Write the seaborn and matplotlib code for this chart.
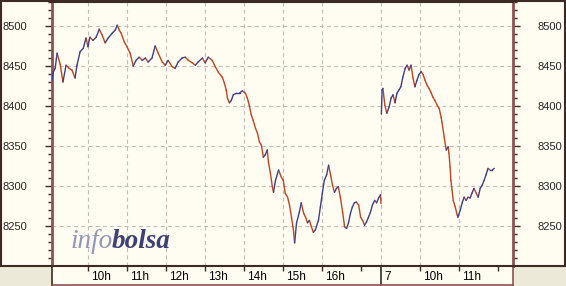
import numpy as np
import pandas as pd
import matplotlib
matplotlib.use("Agg")
import matplotlib.pyplot as plt
import matplotlib.transforms as mtransforms
from matplotlib.patches import Rectangle
import seaborn as sns

# ---------------- data ----------------
day1_hours = [9.08, 9.11, 9.16, 9.21, 9.29, 9.36, 9.44, 9.52, 9.59, 9.67,
              9.72, 9.80, 9.88, 9.95, 10.00, 10.05, 10.13, 10.21, 10.29, 10.36,
              10.44, 10.52, 10.62, 10.70, 10.75, 10.80, 10.85, 10.93, 11.00, 11.08,
              11.16, 11.23, 11.31, 11.39, 11.47, 11.54, 11.64, 11.72, 11.80, 11.90,
              11.98, 12.05, 12.16, 12.23, 12.31, 12.41, 12.49, 12.57, 12.67, 12.75,
              12.82, 12.93, 13.00, 13.08, 13.18, 13.26, 13.34, 13.44, 13.49, 13.54,
              13.57, 13.62, 13.67, 13.72, 13.80, 13.88, 13.95, 14.03, 14.08, 14.13,
              14.18, 14.23, 14.29, 14.34, 14.39, 14.44, 14.49, 14.54, 14.59, 14.62,
              14.67, 14.72, 14.75, 14.80, 14.88, 14.95, 15.00, 15.05, 15.11, 15.16,
              15.21, 15.26, 15.29, 15.34, 15.41, 15.46, 15.52, 15.57, 15.62, 15.67,
              15.72, 15.77, 15.82, 15.90, 15.95, 16.00, 16.05, 16.11, 16.16, 16.21,
              16.26, 16.31, 16.36, 16.41, 16.46, 16.52, 16.57, 16.62, 16.67, 16.72,
              16.77, 16.82, 16.87, 16.93, 16.98, 17.03, 17.08, 17.13, 17.18, 17.23,
              17.28, 17.34, 17.39, 17.44, 17.49, 17.50]
day1_values = [8432, 8442, 8447, 8466, 8452, 8430, 8451, 8447, 8445, 8435,
               8451, 8468, 8472, 8485, 8474, 8486, 8482, 8486, 8496, 8489,
               8479, 8485, 8491, 8495, 8501, 8495, 8491, 8480, 8474, 8466,
               8450, 8457, 8461, 8457, 8460, 8455, 8460, 8475, 8466, 8455,
               8451, 8457, 8449, 8447, 8455, 8460, 8461, 8457, 8454, 8451,
               8455, 8460, 8454, 8461, 8457, 8449, 8442, 8436, 8429, 8420,
               8410, 8404, 8407, 8414, 8416, 8416, 8419, 8416, 8410, 8401,
               8389, 8382, 8372, 8366, 8355, 8351, 8336, 8339, 8345, 8330,
               8316, 8299, 8292, 8307, 8320, 8311, 8307, 8291, 8286, 8276,
               8261, 8245, 8229, 8254, 8267, 8279, 8266, 8261, 8254, 8257,
               8249, 8242, 8245, 8257, 8274, 8291, 8307, 8314, 8326, 8314,
               8301, 8292, 8297, 8299, 8286, 8267, 8249, 8247, 8254, 8266,
               8274, 8279, 8280, 8276, 8261, 8257, 8251, 8255, 8261, 8267,
               8276, 8282, 8279, 8285, 8289, 8278]

day2_hours = [9.01, 9.03, 9.05, 9.10, 9.15, 9.21, 9.26, 9.31, 9.36, 9.41,
              9.46, 9.51, 9.56, 9.62, 9.67, 9.72, 9.77, 9.82, 9.87, 9.92,
              9.97, 10.03, 10.08, 10.13, 10.18, 10.23, 10.28, 10.33, 10.38, 10.44,
              10.49, 10.54, 10.56, 10.62, 10.67, 10.72, 10.74, 10.77, 10.79, 10.82,
              10.85, 10.90, 10.95, 10.97, 11.03, 11.08, 11.13, 11.18, 11.23, 11.28,
              11.33, 11.38, 11.44, 11.49, 11.54, 11.59, 11.64, 11.69, 11.74, 11.79,
              11.85, 11.90]
day2_values = [8390, 8420, 8422, 8401, 8391, 8399, 8410, 8414, 8404, 8416,
               8420, 8424, 8436, 8447, 8451, 8445, 8451, 8435, 8424, 8432,
               8439, 8443, 8439, 8432, 8426, 8422, 8417, 8411, 8407, 8401,
               8397, 8386, 8380, 8361, 8345, 8349, 8341, 8324, 8307, 8295,
               8282, 8274, 8264, 8261, 8270, 8279, 8286, 8282, 8286, 8285,
               8291, 8297, 8291, 8286, 8297, 8301, 8307, 8314, 8322, 8320,
               8320, 8322]

session_open = 9.0
session_close = 17.5
y_ticks = [8250, 8300, 8350, 8400, 8450, 8500]
day1_tick_hours = [10, 11, 12, 13, 14, 15, 16, 17]
day1_tick_labels = ["10h", "11h", "12h", "13h", "14h", "15h", "16h", ""]
day2_label = "7"
day2_tick_hours = [10, 11, 12]
day2_tick_labels = ["10h", "11h", ""]
day1_grid_hours = [10, 11, 12, 13, 14, 15, 16]
day2_grid_hours = [10, 11]

# ---------------- styling ----------------
W, H = 566, 286
CREAM = "#fffcf1"
GREY = "#ece9d8"
BROWN = "#8e5252"
DARK = "#3d2a26"
GRIDC = "#c2bcb4"
UP = "#3d3f8f"
DOWN = "#c2451f"
FONT = "Liberation Sans"

day2_offset = session_close - session_open  # 8.5

def pos1(h):
    return h - session_open

def pos2(h):
    return h - session_open + day2_offset

rows = []
for day, (hrs, vals, f) in enumerate([(day1_hours, day1_values, pos1),
                                       (day2_hours, day2_values, pos2)]):
    p = [f(h) for h in hrs]
    for i in range(len(vals) - 1):
        d = "up" if vals[i + 1] >= vals[i] else "down"
        rows.append((p[i], vals[i], f"{day}-{i}", d))
        rows.append((p[i + 1], vals[i + 1], f"{day}-{i}", d))
df = pd.DataFrame(rows, columns=["pos", "value", "seg", "dir"])

sns.set_theme(style="white")
plt.rcParams["font.family"] = [FONT, "DejaVu Sans"]

fig = plt.figure(figsize=(W / 100, H / 100), dpi=100, facecolor=CREAM)

# bottom grey band (behind everything)
fig.patches.append(Rectangle((0, 0), 1, 20 / H, transform=fig.transFigure,
                             facecolor=GREY, edgecolor="none", zorder=-5))
# outer frame (outline only, on top)
fig.patches.append(Rectangle((0.8 / W, 20 / H), (W - 1.6) / W, (H - 20.8) / H,
                             transform=fig.transFigure, facecolor="none",
                             edgecolor=DARK, lw=1.5, zorder=10))

x0, x1 = 0.08, day2_offset + 3.38
ax = fig.add_axes([52 / W, 20 / H, 461 / W, 264 / H])
ax.set_facecolor(CREAM)

sns.lineplot(data=df, x="pos", y="value", units="seg", hue="dir",
             estimator=None, palette={"up": UP, "down": DOWN},
             hue_order=["down", "up"], lw=1.0, legend=False, ax=ax, zorder=3)

ax.set_xlim(x0, x1)
ax.set_ylim(8200, 8530)
ax.set_xlabel("")
ax.set_ylabel("")

grid_pos = [pos1(h) for h in day1_grid_hours] + [day2_offset] + [pos2(h) for h in day2_grid_hours]
ax.set_xticks(grid_pos)
ax.tick_params(axis="x", length=0, labelbottom=False)
ax.set_yticks(y_ticks)
ax.set_yticks(np.arange(8210, 8531, 10), minor=True)
ax.tick_params(axis="y", which="major", direction="out", length=5, width=1,
               color=DARK, left=True, right=True, labelleft=True,
               labelright=True, labelsize=8, pad=13)
ax.tick_params(axis="y", which="minor", direction="out", length=3, width=1,
               color=DARK, left=True, right=True)
for t in ax.get_yticklabels():
    t.set_fontfamily(FONT)
ax.grid(True, which="major", color=GRIDC, linestyle=(0, (3.5, 3)), lw=0.8)
ax.set_axisbelow(True)
for s in ["left", "right", "bottom"]:
    ax.spines[s].set_color(BROWN)
    ax.spines[s].set_linewidth(2)
ax.spines["top"].set_color(DARK)
ax.spines["top"].set_linewidth(1.5)

# time strip
sx = fig.add_axes([52 / W, 1.5 / H, 461 / W, 18.5 / H])
sx.set_facecolor(CREAM)
sx.set_xlim(x0, x1)
sx.set_ylim(0, 1)
sx.set_xticks([])
sx.set_yticks([])
for s in ["left", "right", "top", "bottom"]:
    sx.spines[s].set_color(BROWN)
    sx.spines[s].set_linewidth(1.2)
sx.spines["left"].set_color(DARK)

off = mtransforms.offset_copy(sx.transData, fig=fig, x=3, y=0, units="dots")
tick_pos = [pos1(h) for h in day1_tick_hours] + [pos2(h) for h in day2_tick_hours]
tick_lab = day1_tick_labels + day2_tick_labels
sx.vlines(tick_pos, 0.72, 1.0, color=DARK, lw=1)
for p, lab in zip(tick_pos, tick_lab):
    if lab:
        sx.text(p, 0.42, lab, transform=off, ha="left", va="center",
                fontsize=8.5, family=FONT, color="black")
sx.vlines([day2_offset], 0.0, 1.0, color=DARK, lw=1.2)
sx.text(day2_offset, 0.42, day2_label, transform=off, ha="left", va="center",
        fontsize=8.5, family=FONT, color="black")

# watermark
fig.text(70 / W, 1 - 248 / H, "info", fontsize=19.5, family="Liberation Serif",
         style="italic", color="#9296b8", va="baseline", ha="left", zorder=4)
fig.text(112 / W, 1 - 248 / H, "bolsa", fontsize=19.5, family="Liberation Serif",
         style="italic", weight="bold", color="#3c4276", va="baseline", ha="left", zorder=4)

fig.savefig("out.png", dpi=100, facecolor=CREAM)
